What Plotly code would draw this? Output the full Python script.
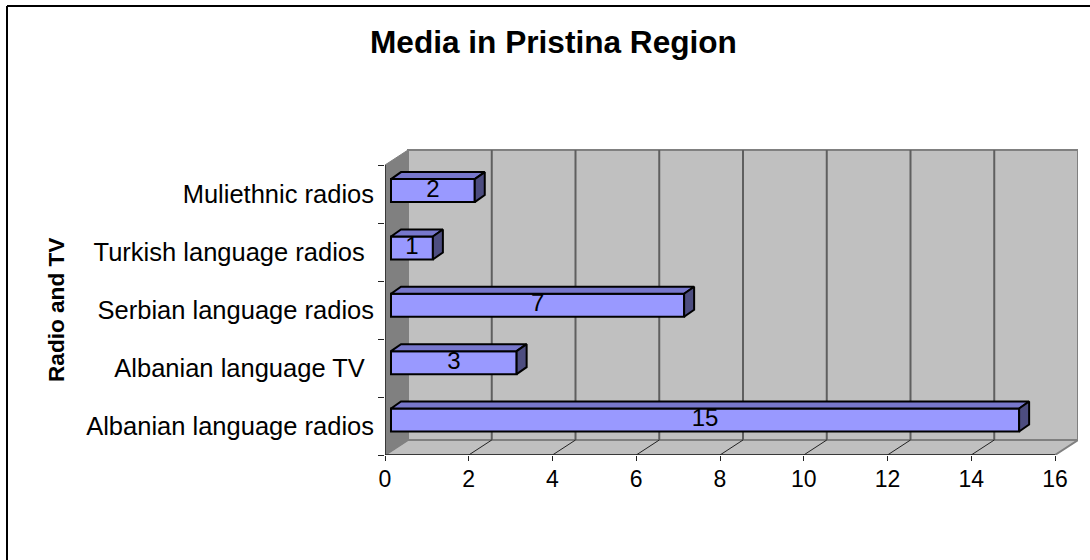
import plotly.graph_objects as go

categories = ["Albanian language radios", "Albanian language TV\u00a0\u200a", "Serbian language radios",
              "Turkish language radios\u00a0\u200a", "Muliethnic radios"]
values = [15, 3, 7, 1, 2]
x_ticks = [0, 2, 4, 6, 8, 10, 12, 14, 16]

W, H = 1090, 560
PX_X = 41.875   # pixels per value unit
PX_Y = 58.0     # pixels per category
X0, Y0 = 385, 455  # pixel position of value 0 / bottom of the category axis
RIGHT, TOP = 1078, 149
x_max = (RIGHT - X0) / PX_X
y_max = -0.5 + (Y0 - TOP) / PX_Y
XD = 23 / PX_X   # wall depth in data units
YD = 15 / PX_Y
BX = 6 / PX_X    # bar start offset
BD_X = 10 / PX_X  # bar depth
BD_Y = 7 / PX_Y
BAR_H = 23 / PX_Y
BAR_PITCH = 57.35 / PX_Y
BAR_LIFT = 6 / PX_Y
n = len(categories)
xmax_t = x_ticks[-1]
ybot, ytop = -0.5, n - 0.5

shapes = []
def poly(xs, ys, fill, line=None, w=1):
    path = "M" + " L".join(f"{a},{b}" for a, b in zip(xs, ys)) + " Z"
    shapes.append(dict(type="path", path=path, xref="x", yref="y", fillcolor=fill, layer="below",
                       line=dict(color=line or fill, width=w)))
def seg(x0, y0, x1, y1, color, w=1):
    shapes.append(dict(type="line", x0=x0, y0=y0, x1=x1, y1=y1, xref="x", yref="y", layer="below",
                       line=dict(color=color, width=w)))

# back wall, floor, side wall
poly([XD, xmax_t + XD, xmax_t + XD, XD], [ybot + YD, ybot + YD, ytop + YD, ytop + YD], "#C0C0C0", "#808080", 2)
poly([0, XD, xmax_t + XD, xmax_t], [ybot, ybot + YD, ybot + YD, ybot], "#C0C0C0", "#808080", 2)
poly([0, XD, XD, 0], [ybot, ybot + YD, ytop + YD, ytop], "#808080", "#808080", 1)
for t in x_ticks[1:-1]:
    seg(t + XD, ybot + YD, t + XD, ytop + YD, "#5F5F5F", 2)
    seg(t, ybot, t + XD, ybot + YD, "#222222", 1)

fig = go.Figure()
bar_y = [BAR_LIFT + i * BAR_PITCH for i in range(n)]
fig.add_trace(go.Bar(x=values, y=bar_y, base=BX, orientation="h", width=BAR_H,
                     marker=dict(color="#9999FF", line=dict(color="#000000", width=2)),
                     hoverinfo="skip", showlegend=False))
for v, yc in zip(values, bar_y):
    xr = BX + v
    yt, yb = yc + BAR_H / 2, yc - BAR_H / 2
    fig.add_trace(go.Scatter(x=[BX, BX + BD_X, xr + BD_X, xr, BX], y=[yt, yt + BD_Y, yt + BD_Y, yt, yt],
                             mode="lines", fill="toself", fillcolor="#7777CC",
                             line=dict(color="#000000", width=2), showlegend=False, hoverinfo="skip"))
    fig.add_trace(go.Scatter(x=[xr, xr + BD_X, xr + BD_X, xr, xr], y=[yt, yt + BD_Y, yb + BD_Y, yb, yt],
                             mode="lines", fill="toself", fillcolor="#4D4D80",
                             line=dict(color="#000000", width=2), showlegend=False, hoverinfo="skip"))
fig.add_trace(go.Scatter(x=[BX + v / 2 for v in values], y=list(bar_y),
                         text=[str(v) for v in values], mode="text",
                         textfont=dict(family="Liberation Sans, Arial", size=24, color="#000000"),
                         showlegend=False, hoverinfo="skip"))
# axis lines
fig.add_trace(go.Scatter(x=[0, xmax_t], y=[ybot, ybot], mode="lines", line=dict(color="#222222", width=1.5),
                         cliponaxis=False, showlegend=False, hoverinfo="skip"))
fig.add_trace(go.Scatter(x=[0, 0], y=[ybot, ytop], mode="lines", line=dict(color="#222222", width=1.5),
                         cliponaxis=False, showlegend=False, hoverinfo="skip"))

# chart-area frame: top and left only
shapes.append(dict(type="line", xref="paper", yref="paper", x0=7 / W, x1=1, y0=1 - 6 / H, y1=1 - 6 / H,
                   line=dict(color="#000000", width=2)))
shapes.append(dict(type="line", xref="paper", yref="paper", x0=7 / W, x1=7 / W, y0=0, y1=1 - 6 / H,
                   line=dict(color="#000000", width=2)))

font = "Liberation Sans, Arial"
fig.update_layout(
    template="none",
    width=W, height=H, autosize=False, margin=dict(l=0, r=0, t=0, b=0, pad=0),
    paper_bgcolor="#FFFFFF", plot_bgcolor="rgba(0,0,0,0)", shapes=shapes,
    xaxis=dict(domain=[X0 / W, RIGHT / W], range=[0, x_max], tickmode="array", tickvals=x_ticks,
               automargin=False,
               ticks="outside", ticklen=5, tickcolor="#222222", showgrid=False, zeroline=False,
               showline=False, tickfont=dict(family=font, size=23, color="#000000"), ticklabelstandoff=-2),
    yaxis=dict(domain=[(H - Y0) / H, (H - TOP) / H], range=[ybot, y_max], tickmode="array",
               automargin=False,
               tickvals=list(range(n)), ticktext=categories, ticks="", showgrid=False, zeroline=False,
               showline=False, ticklabelstandoff=10,
               tickfont=dict(family=font, size=25.5, color="#000000"),
               minor=dict(tickmode="array", tickvals=[i - 0.5 for i in range(n + 1)], ticks="outside",
                          ticklen=6, tickcolor="#222222", showgrid=False)),
    annotations=[
        dict(text="<b>Media in Pristina Region</b>", xref="paper", yref="paper", x=553 / W, y=1 - 42 / H,
             showarrow=False, font=dict(family=font, size=31.6, color="#000000"), xanchor="center", yanchor="middle"),
        dict(text="<b>Radio and TV</b>", xref="paper", yref="paper", x=56 / W, y=1 - 310 / H, textangle=-90,
             showarrow=False, font=dict(family=font, size=22.6, color="#000000"), xanchor="center", yanchor="middle"),
    ],
)
fig.write_html("out.html", config={"displayModeBar": False},
               post_script="document.body.style.margin='0';document.documentElement.style.overflow='hidden';")
